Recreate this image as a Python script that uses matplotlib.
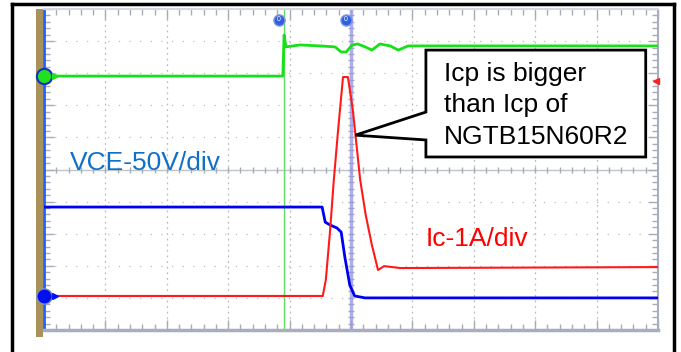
import numpy as np
import matplotlib
matplotlib.use("Agg")
import matplotlib.pyplot as plt
from matplotlib.patches import Rectangle, Polygon
from matplotlib.lines import Line2D

plt.rcParams['font.family'] = ['Liberation Sans', 'DejaVu Sans']

# scope traces in divisions (x: 0..10, y: -5..5)
green_t = [0, 3.89, 3.91, 3.94, 4.17, 4.50, 4.74, 4.84, 4.92, 5.02, 5.11, 5.23, 5.34, 5.47, 5.64, 5.77, 5.93, 6.12, 10]
green_v = [2.91, 2.91, 4.19, 3.82, 3.88, 3.85, 3.82, 3.66, 3.66, 3.88, 3.91, 3.82, 3.72, 3.91, 3.85, 3.72, 3.85, 3.85, 3.85]

ic_t = [0, 4.54, 4.59, 4.66, 4.72, 4.79, 4.87, 4.95, 5.03, 5.15, 5.24, 5.34, 5.44, 5.54, 5.80, 10]
ic_v = [-3.94, -3.94, -3.44, -1.89, -0.33, 1.23, 2.88, 2.88, 1.85, -0.33, -1.42, -2.35, -3.13, -3.01, -3.07, -3.04]

vce_t = [0, 4.53, 4.58, 4.66, 4.77, 4.84, 4.90, 4.98, 5.06, 5.23, 10]
vce_v = [-1.17, -1.17, -1.64, -1.73, -1.82, -1.95, -2.73, -3.60, -3.94, -4.00, -4.00]

cursor_green = 3.91
cursor_blue = 5.0

W, H = 681, 352
fig = plt.figure(figsize=(W / 100, H / 100), dpi=100)
fig.patch.set_facecolor('white')

# helper: pixel -> figure fraction
def fx(px):
    return px / W

def fy(py):
    return 1 - py / H

ax = fig.add_axes([fx(44), fy(330), fx(658) - fx(44), fy(9) - fy(330)])
ax.set_xlim(0, 10)
ax.set_ylim(-5, 5)
ax.set_facecolor('white')

# grid: dotted lines at every division
grid_col = '#bcbcbc'
for k in range(1, 10):
    if k != 5:
        ax.axvline(k, color=grid_col, lw=0.9, ls=(0, (1.5, 3)), zorder=1)
    ax.axhline(k - 5, color=grid_col, lw=0.9, ls=(0, (1, 7.5)), zorder=1)
ax.axhline(0, color='#c0c4cc', lw=1.0, zorder=1)

# center crosshair ticks
minor = np.arange(0, 10.01, 0.2)
ax.plot(minor, np.zeros_like(minor), ls='none', marker='|', ms=5, color='#a8acb8', mew=1, zorder=1)
ax.plot(np.full(51, 5.0), np.arange(-5, 5.01, 0.2), ls='none', marker='_', ms=5, color='#a8acb8', mew=1, zorder=1)

# spines and edge ticks
for s in ['top', 'right', 'bottom']:
    ax.spines[s].set_color('#a8aebd')
ax.spines['bottom'].set_linewidth(2.5)
ax.spines['right'].set_linewidth(1.5)
ax.spines['top'].set_color('#d4d8e0')
ax.spines['top'].set_linewidth(1.5)
ax.spines['left'].set_color('#2060ff')
ax.spines['left'].set_linewidth(2)
ax.set_xticks(np.arange(0, 11, 1))
ax.set_yticks(np.arange(-5, 6, 1))
ax.set_xticks(minor, minor=True)
ax.set_yticks(np.arange(-5, 5.01, 0.2), minor=True)
ax.tick_params(which='both', direction='in', top=True, right=True, labelbottom=False, labelleft=False,
               color='#a8acb8', width=1)
ax.tick_params(which='major', length=7)
ax.tick_params(which='minor', length=4)

# cursors
ax.axvline(cursor_green, color='#60e060', lw=1.0, zorder=2)
ax.axvline(cursor_blue, color='#9a9ae0', lw=2.5, alpha=0.8, zorder=2)

# traces
ax.plot(green_t, green_v, color='#18e018', lw=2.0, zorder=4)
ax.plot(vce_t, vce_v, color='#0000f0', lw=2.0, zorder=4)
ax.plot(ic_t, ic_v, color='#ff1a1a', lw=1.5, zorder=5)

# channel markers
ax.plot([0.0], [2.91], marker='o', ms=11, mfc='#20e020', mec='#1030c0', mew=1.5, clip_on=False, zorder=7)
ax.plot([0.18], [2.91], marker='>', ms=5, color='#20e020', clip_on=False, zorder=7)
ax.plot([0.0], [-3.94], marker='o', ms=11, mfc='#0010f0', mec='#8090c0', mew=1, clip_on=False, zorder=7)
ax.plot([0.18], [-3.94], marker='>', ms=5, color='#0010f0', clip_on=False, zorder=7)
ax.plot([9.97], [2.76], marker='<', ms=5, color='#ff2020', clip_on=False, zorder=7)
for xc in [3.83, 4.92]:
    ax.plot([xc], [4.66], marker='o', ms=8, mfc='#3060e0', mec='#8098e8', mew=1, zorder=7)
    ax.text(xc, 4.66, '0', color='white', fontsize=5, ha='center', va='center', zorder=8)

# labels
ax.text(0.42, 0.2, 'VCE-50V/div', color='#1070c8', fontsize=19, ha='left', va='center', zorder=6)
ax.text(6.21, -2.15, 'Ic-1A/div', color='#ff0000', fontsize=19, ha='left', va='center', zorder=6)

# callout
box = Polygon([(6.22, 3.72), (9.80, 3.72), (9.80, 0.39), (6.22, 0.39), (6.22, 0.92),
               (5.07, 1.07), (6.22, 1.79)], closed=True, fc='white', ec='black', lw=2, zorder=9)
ax.add_patch(box)
ax.text(6.52, 2.0, 'Icp is bigger\nthan Icp of\nNGTB15N60R2', fontsize=19, ha='left', va='center',
        linespacing=1.4, color='black', zorder=10)

# brown strip at left of the screen
fig.add_artist(Rectangle((fx(36), fy(337)), fx(43) - fx(36), fy(9) - fy(337),
                         transform=fig.transFigure, fc='#a8925a', ec='none', zorder=0))

# outer frame
fig.add_artist(Line2D([fx(12), fx(12)], [0, fy(4)], transform=fig.transFigure, color='black', lw=2.5))
fig.add_artist(Line2D([fx(12), fx(674)], [fy(4), fy(4)], transform=fig.transFigure, color='black', lw=2.5))
fig.add_artist(Line2D([fx(674), fx(674)], [0, fy(4)], transform=fig.transFigure, color='black', lw=2.5))

fig.savefig('out.png', dpi=100)
